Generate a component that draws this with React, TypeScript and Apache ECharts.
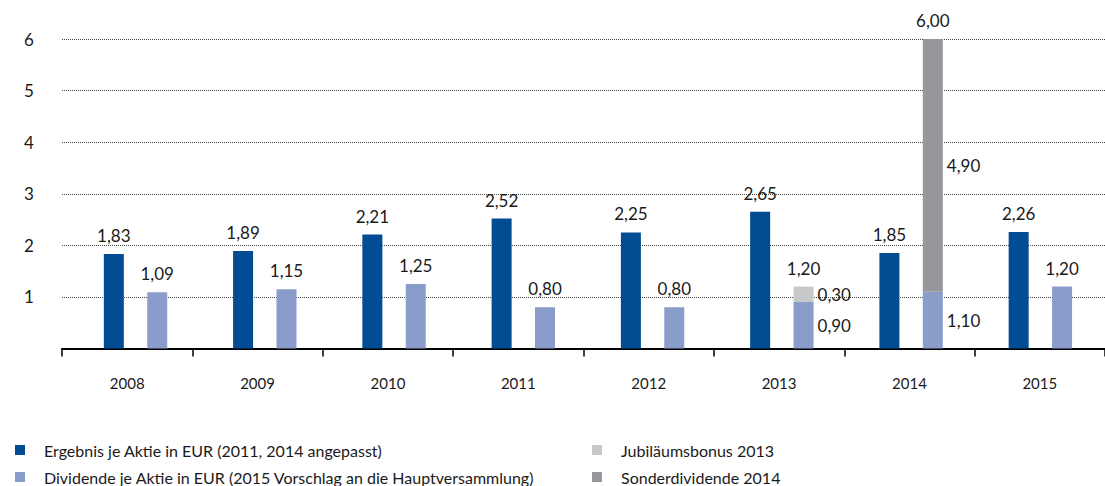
import React, { useEffect, useRef } from "react";
import * as echarts from "echarts";

const years = ["2008", "2009", "2010", "2011", "2012", "2013", "2014", "2015"];
const ergebnis = [1.83, 1.89, 2.21, 2.52, 2.25, 2.65, 1.85, 2.26];
const dividende = [1.09, 1.15, 1.25, 0.8, 0.8, 0.9, 1.1, 1.2];
const jubilaeum: (number | null)[] = [null, null, null, null, null, 0.3, null, null];
const sonder: (number | null)[] = [null, null, null, null, null, null, 4.9, null];
const yTicks = [0, 1, 2, 3, 4, 5, 6];

const names = {
  erg: "Ergebnis je Aktie in EUR (2011, 2014 angepasst)",
  div: "Dividende je Aktie in EUR (2015 Vorschlag an die Hauptversammlung)",
  jub: "Jubiläumsbonus 2013",
  son: "Sonderdividende 2014",
};

const C_DARK = "#024C94";
const C_LIGHT = "#8A9CCA";
const C_JUB = "#C7C8CA";
const C_SON = "#96979B";
const FONT = "Lato";

const fmt = (v: number) => v.toFixed(2).replace(".", ",");

export default function App() {
  const ref = useRef<HTMLDivElement>(null);
  useEffect(() => {
    if (!ref.current) return;
    const chart = echarts.init(ref.current, undefined, { renderer: "svg" });
    const hasExtra = years.map((_, i) => jubilaeum[i] != null || sonder[i] != null);
    const totals = years.map((_, i) =>
      hasExtra[i] ? dividende[i] + (jubilaeum[i] || 0) + (sonder[i] || 0) : null
    );
    const labelBase = { fontFamily: FONT, fontSize: 17, color: "#1a1a1a" };
    const extraLabel = (arr: (number | null)[]) =>
      arr.map((v) =>
        v == null
          ? "-"
          : { value: v, label: { show: true, position: "right", distance: 4, formatter: fmt(v), ...labelBase } }
      );
    const mkLegend = (name: string, left: number, top: number) => ({
      data: [name],
      orient: "horizontal",
      left,
      top,
      padding: 0,
      icon: "rect",
      itemWidth: 10,
      itemHeight: 10,
      selectedMode: false,
      textStyle: { fontFamily: FONT, fontSize: 16, color: "#1a1a1a", padding: [0, 0, 0, 14] },
    });
    const hiddenCat = {
      type: "category",
      data: years,
      gridIndex: 1,
      show: false,
    };
    chart.setOption({
      animation: false,
      grid: [
        { left: 62, right: -5, top: 39, bottom: 137.5, containLabel: false },
        { left: 70.9, right: -7.5, top: 39, bottom: 137.5, containLabel: false },
      ],
      legend: [
        mkLegend(names.erg, 15, 442),
        mkLegend(names.div, 15, 469),
        mkLegend(names.jub, 592, 442),
        mkLegend(names.son, 592, 469),
      ],
      xAxis: [
        {
          type: "category",
          data: years,
          boundaryGap: true,
          gridIndex: 0,
          axisLine: { show: true, lineStyle: { color: "#000", width: 2 } },
          axisTick: { show: true, length: 8, lineStyle: { color: "#000", width: 1.5 } },
          axisLabel: { fontFamily: FONT, fontSize: 15, color: "#1a1a1a", margin: 27 },
        },
        hiddenCat,
      ],
      yAxis: [
        {
          type: "value",
          gridIndex: 0,
          min: yTicks[0],
          max: yTicks[yTicks.length - 1],
          interval: 1,
          axisLine: { show: false },
          axisTick: { show: false },
          axisLabel: {
            fontFamily: FONT,
            fontSize: 17,
            color: "#1a1a1a",
            margin: 33,
            align: "center",
            formatter: (v: number) => (v === 0 ? "" : String(v)),
          },
          splitLine: { show: true, lineStyle: { color: "#444", type: [1, 1], width: 1 } },
        },
        {
          type: "value",
          gridIndex: 1,
          min: yTicks[0],
          max: yTicks[yTicks.length - 1],
          interval: 1,
          show: false,
          splitLine: { show: false },
        },
      ],
      series: [
        {
          name: names.erg,
          type: "bar",
          xAxisIndex: 1,
          yAxisIndex: 1,
          data: ergebnis,
          barWidth: 20,
          barGap: "117%",
          itemStyle: { color: C_DARK },
          label: { show: true, position: "top", distance: 10, formatter: (p: any) => fmt(p.value), ...labelBase },
        },
        {
          name: names.div,
          type: "bar",
          xAxisIndex: 1,
          yAxisIndex: 1,
          stack: "div",
          barWidth: 20,
          data: dividende.map((v, i) =>
            hasExtra[i]
              ? { value: v, label: { show: true, position: "right", distance: 4, formatter: fmt(v), ...labelBase } }
              : { value: v }
          ),
          itemStyle: { color: C_LIGHT },
          label: { show: true, position: "top", distance: 10, formatter: (p: any) => fmt(p.value), ...labelBase },
        },
        {
          name: names.jub,
          type: "bar",
          xAxisIndex: 1,
          yAxisIndex: 1,
          stack: "div",
          barWidth: 20,
          data: extraLabel(jubilaeum),
          itemStyle: { color: C_JUB },
        },
        {
          name: names.son,
          type: "bar",
          xAxisIndex: 1,
          yAxisIndex: 1,
          stack: "div",
          barWidth: 20,
          data: extraLabel(sonder),
          itemStyle: { color: C_SON },
        },
        {
          name: "Summe",
          type: "bar",
          xAxisIndex: 1,
          yAxisIndex: 1,
          stack: "div",
          barWidth: 20,
          data: totals.map((t) => (t == null ? "-" : 0)),
          itemStyle: { color: "transparent" },
          label: {
            show: true,
            position: "top",
            distance: 10,
            formatter: (p: any) => (totals[p.dataIndex] == null ? "" : fmt(totals[p.dataIndex] as number)),
            ...labelBase,
          },
        },
      ],
    });
    return () => chart.dispose();
  }, []);
  return (
    <div
      ref={ref}
      style={{ position: "fixed", left: 0, top: 0, width: 1105, height: 486, background: "#fff" }}
    />
  );
}
